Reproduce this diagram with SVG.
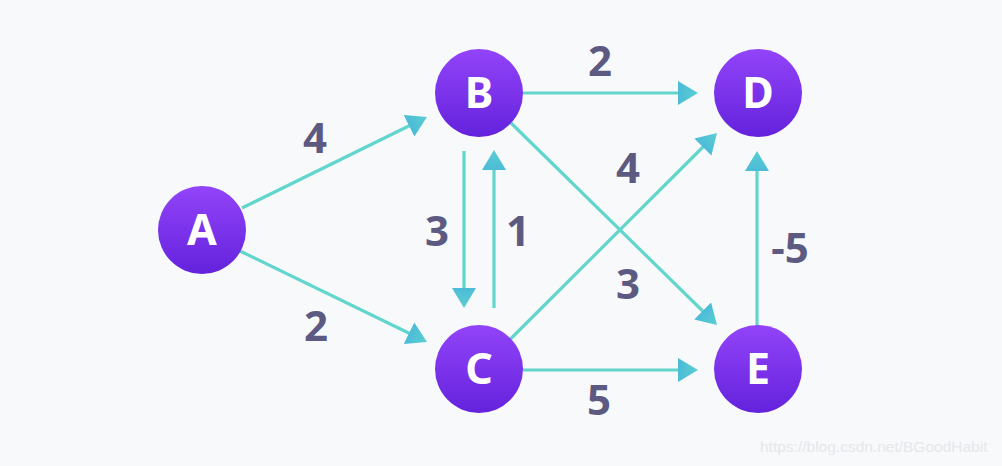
<svg xmlns="http://www.w3.org/2000/svg" width="1002" height="466" viewBox="0 0 1002 466">
<style>
.edge{fill:none;stroke:#62D6CD;stroke-width:3.2;marker-end:url(#arr)}
.node{fill:url(#ng)}
.nl{fill:#fff;font-family:"Noto Sans","Open Sans",sans-serif;font-weight:700;font-size:43px;text-anchor:middle}
.lbl{fill:#5D5A82;font-family:"Noto Sans","Open Sans",sans-serif;font-weight:700;font-size:42px;text-anchor:middle}
.wm{fill:#E6E7EC;font-family:"Liberation Sans",Arial,sans-serif;font-size:15.5px}
</style>
<defs>
<linearGradient id="ng" x1="0" y1="0" x2="0" y2="1">
<stop offset="0" stop-color="#9244F9"/>
<stop offset="1" stop-color="#6422DC"/>
</linearGradient>
<linearGradient id="ag" x1="0" y1="0" x2="1" y2="0">
<stop offset="0" stop-color="#4CBBD8"/>
<stop offset="1" stop-color="#5ACFD2"/>
</linearGradient>
<marker id="arr" markerUnits="userSpaceOnUse" markerWidth="22" markerHeight="26" viewBox="0 0 22 26" refX="15" refY="12" orient="auto">
<path d="M0,0 L20,12 L0,24 Z" fill="url(#ag)"/>
</marker>
</defs>
<rect width="1002" height="466" fill="#F8F9FB"/>
<g id="connectors">
<line class="edge" x1="242" y1="208" x2="422.5" y2="119.2"/>
<line class="edge" x1="240" y1="251" x2="422.5" y2="339.8"/>
<line class="edge" x1="523" y1="93" x2="693" y2="93"/>
<line class="edge" x1="464" y1="151" x2="464" y2="303"/>
<line class="edge" x1="494" y1="308" x2="494" y2="155"/>
<line class="edge" x1="511" y1="123" x2="713.4" y2="321.5"/>
<line class="edge" x1="510.5" y1="339" x2="713.5" y2="136.5"/>
<line class="edge" x1="523" y1="370" x2="693" y2="370"/>
<line class="edge" x1="757" y1="326" x2="757" y2="156"/>
</g>
<g id="labels">
<text class="lbl" x="315" y="153">4</text>
<text class="lbl" x="316" y="341">2</text>
<text class="lbl" x="437" y="246">3</text>
<text class="lbl" x="518" y="246">1</text>
<text class="lbl" x="600" y="76">2</text>
<text class="lbl" x="628" y="183">4</text>
<text class="lbl" x="628" y="299">3</text>
<text class="lbl" x="599" y="415">5</text>
<text class="lbl" x="790" y="263">-5</text>
</g>
<g id="node-A"><circle class="node" cx="202" cy="230" r="44"/><text class="nl" x="202" y="245">A</text></g>
<g id="node-B"><circle class="node" cx="479" cy="93" r="44"/><text class="nl" x="479" y="108">B</text></g>
<g id="node-C"><circle class="node" cx="479" cy="369" r="44"/><text class="nl" x="479" y="384">C</text></g>
<g id="node-D"><circle class="node" cx="758" cy="93" r="44"/><text class="nl" x="758" y="108">D</text></g>
<g id="node-E"><circle class="node" cx="758" cy="369" r="44"/><text class="nl" x="758" y="384">E</text></g>
<text class="wm" x="760" y="452">https://blog.csdn.net/BGoodHabit</text>
</svg>
